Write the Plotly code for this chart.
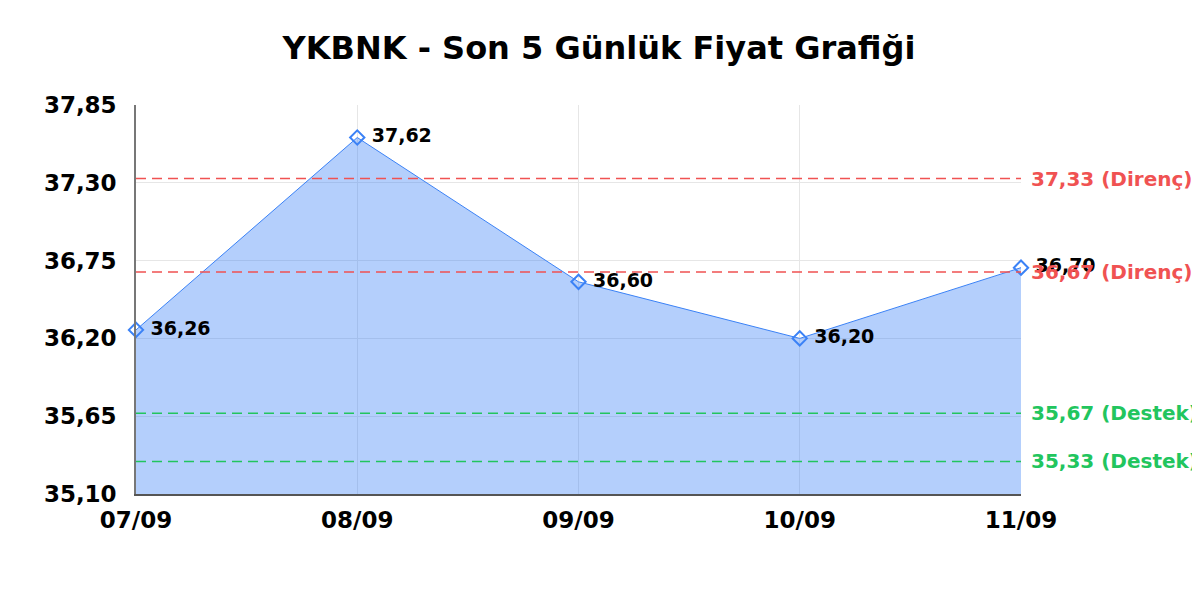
import plotly.graph_objects as go

dates = ['07/09', '08/09', '09/09', '10/09', '11/09']
prices = [36.26, 37.62, 36.60, 36.20, 36.70]

resistance = [37.33, 36.67]
support = [35.67, 35.33]
y_ticks = [35.10, 35.65, 36.20, 36.75, 37.30, 37.85]

FONT = 'DejaVu Sans'
BLUE = '#3b82f6'
RED = '#f05252'
GREEN = '#22c55e'


def fmt(v):
    return '{:.2f}'.format(v).replace('.', ',')


fig = go.Figure()

# price area with open diamond markers and value labels
fig.add_trace(go.Scatter(x=dates, y=prices, mode='lines+markers+text', fill='tozeroy',
                         fillcolor='rgba(59,130,246,0.38)', line=dict(color=BLUE, width=1),
                         marker=dict(symbol='diamond-open', size=11, color=BLUE, line=dict(width=2)),
                         text=['\u00a0' + fmt(p) for p in prices], textposition='middle right',
                         textfont=dict(family=FONT, size=19, color='black', weight='bold'),
                         showlegend=False, cliponaxis=False))

for level, color, tag in [(v, RED, 'Direnç') for v in resistance] + [(v, GREEN, 'Destek') for v in support]:
    fig.add_hline(y=level, line=dict(color=color, width=1.5, dash='10px,6px'))
    fig.add_annotation(x=1, xref='paper', y=level, yref='y', xanchor='left', xshift=8,
                       text='{} ({})'.format(fmt(level), tag), showarrow=False,
                       font=dict(family=FONT, size=20, color=color, weight='bold'))

# page body adds an 8px offset, so the figure is shrunk to fit the window
fig.update_layout(
    width=1192, height=592,
    title=dict(text='YKBNK - Son 5 Günlük Fiyat Grafiği', x=0.4958, xanchor='center', y=0.9324, yanchor='middle',
               font=dict(family=FONT, size=32, color='black', weight='bold')),
    paper_bgcolor='white', plot_bgcolor='white',
    margin=dict(l=128, r=179, t=97, b=106),
    separators=',.',
)
fig.update_xaxes(type='category', range=[0, 4], showgrid=True, gridcolor='#e6e6e6',
                 showline=True, linecolor='#555555', linewidth=1.5, ticks='', automargin=False,
                 ticklabelstandoff=5,
                 tickfont=dict(family=FONT, size=23, color='black', weight='bold'))
fig.update_yaxes(range=[35.10, 37.85], tickvals=y_ticks, ticktext=[fmt(v) for v in y_ticks],
                 showgrid=True, gridcolor='#e6e6e6', showline=True, linecolor='#777777', linewidth=1.5,
                 ticks='', zeroline=False, automargin=False, ticklabelstandoff=13,
                 tickfont=dict(family=FONT, size=23, color='black', weight='bold'))

fig.write_html('out.html')
